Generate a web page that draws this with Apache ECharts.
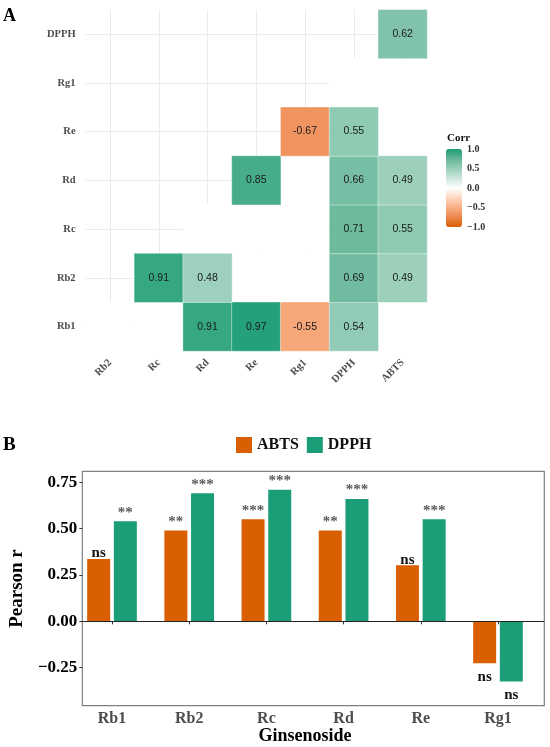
<!DOCTYPE html>
<html>
<head>
<meta charset="utf-8">
<script src="https://cdn.jsdelivr.net/npm/echarts@6/dist/echarts.min.js"></script>
<style>
  html, body { margin: 0; padding: 0; background: #fff; }
  #chart { width: 550px; height: 747px; }
</style>
</head>
<body>
<div id="chart"></div>
<script>
// ---- panel A: correlation matrix (lower triangle) ----
const vars = ['Rb1', 'Rb2', 'Rc', 'Rd', 'Re', 'Rg1', 'DPPH', 'ABTS'];
const heatX = ['Rb2', 'Rc', 'Rd', 'Re', 'Rg1', 'DPPH', 'ABTS'];
const heatY = ['Rb1', 'Rb2', 'Rc', 'Rd', 'Re', 'Rg1', 'DPPH'];
// significant correlations only (others are left blank)
const corrX = ['Rd', 'Re', 'Rg1', 'DPPH', 'Rc', 'Rd', 'DPPH', 'ABTS', 'DPPH', 'ABTS', 'Re', 'DPPH', 'ABTS', 'Rg1', 'DPPH', 'ABTS'];
const corrY = ['Rb1', 'Rb1', 'Rb1', 'Rb1', 'Rb2', 'Rb2', 'Rb2', 'Rb2', 'Rc', 'Rc', 'Rd', 'Rd', 'Rd', 'Re', 'Re', 'DPPH'];
const corrR = [0.91, 0.97, -0.55, 0.54, 0.91, 0.48, 0.69, 0.49, 0.71, 0.55, 0.85, 0.66, 0.49, -0.67, 0.55, 0.62];
const corrTicks = [-1, -0.5, 0, 0.5, 1];

// ---- panel B: Pearson r per ginsenoside ----
const ginsenosides = ['Rb1', 'Rb2', 'Rc', 'Rd', 'Re', 'Rg1'];
const abts = [0.336, 0.49, 0.55, 0.49, 0.302, -0.226];
const dpph = [0.54, 0.69, 0.71, 0.66, 0.55, -0.325];
const abtsSig = ['ns', '**', '***', '**', 'ns', 'ns'];
const dpphSig = ['**', '***', '***', '***', '***', 'ns'];
const rTicks = [-0.25, 0, 0.25, 0.5, 0.75];

const SERIF = '"Liberation Serif", "Times New Roman", serif';
const GRAY = '#4d4d4d';
const ORANGE = '#D95F02';
const GREEN = '#1B9E77';

function minus(s) { return String(s).replace('-', '\u2212'); }

// heatmap cells
const sigCells = corrR.map((r, i) => [heatX.indexOf(corrX[i]), heatY.indexOf(corrY[i]), r]);
const blankCells = [];
heatY.forEach((yv, yi) => {
  const vi = vars.indexOf(yv);
  heatX.forEach((xv, xi) => {
    if (vars.indexOf(xv) <= vi) return;
    const hit = sigCells.some(c => c[0] === xi && c[1] === yi);
    if (!hit) blankCells.push([xi, yi, 0]);
  });
});

function barData(vals, sig) {
  return vals.map((v, i) => {
    const ns = sig[i] === 'ns';
    return {
      value: v,
      label: {
        position: v >= 0 ? 'top' : 'bottom',
        distance: v >= 0 ? (ns ? -2 : 1) : 6,
        color: ns ? '#111' : '#5a5a5a'
      }
    };
  });
}

const chart = echarts.init(document.getElementById('chart'), null, { renderer: 'canvas' });

chart.setOption({
  animation: false,
  backgroundColor: '#fff',
  title: [
    { text: 'A', left: 3, top: 7, padding: 0, textStyle: { fontFamily: SERIF, fontWeight: 'bold', fontSize: 18, color: '#000' } },
    { text: 'B', left: 3, top: 436, padding: 0, textStyle: { fontFamily: SERIF, fontWeight: 'bold', fontSize: 19, color: '#000' } },
    { text: 'Corr', left: 447, top: 133, padding: 0, textStyle: { fontFamily: SERIF, fontWeight: 'bold', fontSize: 11, color: '#111' } }
  ],
  legend: {
    data: ['ABTS', 'DPPH'],
    left: 236, top: 437, padding: 0,
    icon: 'rect', itemWidth: 16, itemHeight: 16, itemGap: 8,
    textStyle: { fontFamily: SERIF, fontWeight: 'bold', fontSize: 16, color: '#111' }
  },
  grid: [
    { left: 85.6, right: 123, top: 9.7, bottom: 396 },
    { left: 446, top: 149, width: 16, height: 78 },
    { left: 65.7, right: 5.7, top: 471.3, bottom: 41.3, show: true, borderColor: '#808080', borderWidth: 1.2, backgroundColor: 'transparent' },
    { left: 73.4, right: 13.4, top: 471.3, bottom: 41.3 }
  ],
  visualMap: {
    type: 'continuous', seriesIndex: 0, min: -1, max: 1,
    calculable: false, hoverLink: false, padding: 0,
    left: 446, top: 149, itemWidth: 16, itemHeight: 78,
    inRange: { color: ['#D95F02', '#eb874c', '#f8af86', '#ffd7c1', '#ffffff', '#cde7dc', '#9acfba', '#64b698', '#1B9E77'] }
  },
  xAxis: [
    {
      gridIndex: 0, type: 'category', data: heatX,
      axisLine: { show: false }, axisTick: { show: false }, splitLine: { show: false },
      axisLabel: { rotate: 45, margin: 10, fontFamily: SERIF, fontWeight: 'bold', fontSize: 10.5, color: GRAY }
    },
    { gridIndex: 1, type: 'value', show: false, min: 0, max: 1 },
    { gridIndex: 2, type: 'value', show: false, min: 0, max: 1 },
    {
      gridIndex: 3, type: 'category', data: ginsenosides,
      axisLine: { show: false },
      axisTick: { show: true, alignWithLabel: true, length: 3, lineStyle: { color: '#333' } },
      axisLabel: { margin: 5, fontFamily: SERIF, fontWeight: 'bold', fontSize: 16, color: GRAY },
      name: 'Ginsenoside', nameLocation: 'middle', nameGap: 20,
      nameTextStyle: { fontFamily: SERIF, fontWeight: 'bold', fontSize: 18, color: '#000' }
    }
  ],
  yAxis: [
    {
      gridIndex: 0, type: 'category', data: heatY,
      axisLine: { show: false }, axisTick: { show: false }, splitLine: { show: false },
      axisLabel: { margin: 10, fontFamily: SERIF, fontWeight: 'bold', fontSize: 10.5, color: GRAY }
    },
    {
      gridIndex: 1, type: 'value', position: 'right', min: -1, max: 1, interval: 0.5,
      axisLine: { show: false }, axisTick: { show: false }, splitLine: { show: false },
      axisLabel: {
        margin: 5, fontFamily: SERIF, fontWeight: 'bold', fontSize: 10, color: '#333',
        formatter: v => corrTicks.includes(v) ? minus(v.toFixed(1)) : ''
      }
    },
    {
      gridIndex: 2, type: 'value', min: -0.455, max: 0.809,
      axisLine: { show: false }, splitLine: { show: false },
      axisTick: { show: true, length: 3, lineStyle: { color: '#333' }, customValues: rTicks },
      axisLabel: {
        margin: 5, fontFamily: SERIF, fontWeight: 'bold', fontSize: 17, color: '#000',
        customValues: rTicks, formatter: v => minus(v.toFixed(2))
      },
      name: 'Pearson r', nameLocation: 'middle', nameGap: 45,
      nameTextStyle: { fontFamily: SERIF, fontWeight: 'bold', fontSize: 19, color: '#000' }
    },
    { gridIndex: 3, type: 'value', show: false, min: -0.455, max: 0.809 }
  ],
  series: [
    {
      type: 'heatmap', xAxisIndex: 0, yAxisIndex: 0, z: 3,
      data: sigCells,
      itemStyle: { borderColor: 'rgba(255,255,255,0.7)', borderWidth: 0.6 },
      label: {
        show: true, fontFamily: '"Liberation Sans", Arial, sans-serif', fontSize: 10.5, color: '#1a1a1a',
        formatter: p => p.value[2].toFixed(2)
      },
      emphasis: { disabled: true }
    },
    {
      type: 'heatmap', xAxisIndex: 0, yAxisIndex: 0, z: 2,
      data: blankCells,
      itemStyle: { color: '#ffffff' },
      label: { show: false },
      emphasis: { disabled: true }
    },
    {
      // panel A grid lines, behind the tiles
      type: 'scatter', xAxisIndex: 0, yAxisIndex: 0, data: [], silent: true,
      markLine: {
        z: 1, silent: true, symbol: ['none', 'none'], label: { show: false },
        lineStyle: { color: '#ebebeb', width: 1, type: 'solid' },
        emphasis: { disabled: true },
        data: heatX.map(c => ({ xAxis: c })).concat(heatY.map(c => ({ yAxis: c })))
      }
    },
    {
      // zero line across the panel B box
      type: 'scatter', xAxisIndex: 2, yAxisIndex: 2, data: [], silent: true,
      markLine: {
        z: 5, silent: true, symbol: ['none', 'none'], label: { show: false },
        lineStyle: { color: '#222', width: 1.2, type: 'solid' },
        emphasis: { disabled: true },
        data: [{ yAxis: 0 }]
      }
    },
    {
      name: 'ABTS', type: 'bar', xAxisIndex: 3, yAxisIndex: 3,
      data: barData(abts, abtsSig), barWidth: 23, barGap: '16%',
      itemStyle: { color: ORANGE },
      label: {
        show: true, fontFamily: SERIF, fontWeight: 'bold', fontSize: 15,
        formatter: p => abtsSig[p.dataIndex]
      },
      emphasis: { disabled: true }
    },
    {
      name: 'DPPH', type: 'bar', xAxisIndex: 3, yAxisIndex: 3,
      data: barData(dpph, dpphSig), barWidth: 23, barGap: '16%',
      itemStyle: { color: GREEN },
      label: {
        show: true, fontFamily: SERIF, fontWeight: 'bold', fontSize: 15,
        formatter: p => dpphSig[p.dataIndex]
      },
      emphasis: { disabled: true }
    }
  ]
});
</script>
</body>
</html>
